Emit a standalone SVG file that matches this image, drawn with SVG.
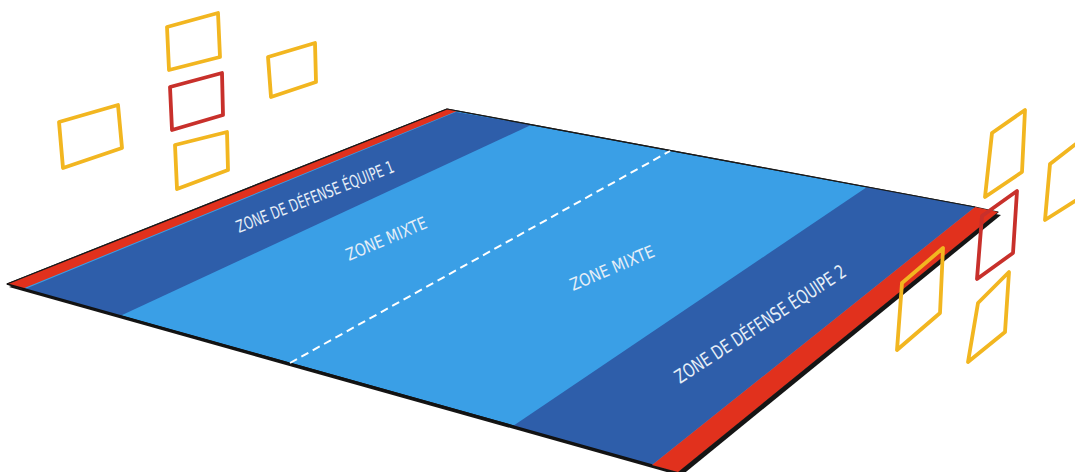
<svg xmlns="http://www.w3.org/2000/svg" width="1075" height="472" viewBox="0 0 1075 472">
<style>
.frame{fill:none;stroke-width:3.8;stroke-linejoin:round;stroke-linecap:round}
.y{stroke:#F2B620}
.r{stroke:#C8302B}
.lbl{fill:#E6EEF7;font-family:"Liberation Sans Narrow","DejaVu Sans Condensed","Liberation Sans",sans-serif}
</style>
<rect width="1075" height="472" fill="#FFFFFF"/>
<g id="court">
  <polygon points="9,287 449,112 1001,215 681,476" fill="#151515"/>
  <polygon points="7,284 447,109 975,207 998,212 678,472" fill="#3A9FE6" stroke="#1a1a1a" stroke-width="1.2" stroke-linejoin="round"/>
  <polygon id="defense1" points="25,289 456,112 531,125 120,316" fill="#2E5EAA"/>
  <polygon id="red1" points="7,284 447,109 457,111 22,289" fill="#E1311D"/>
  <polygon id="defense2" points="513,426 867,187 975,207 652,465" fill="#2E5EAA"/>
  <polygon id="red2" points="975,207 998,212 678,472 652,465" fill="#E1311D"/>
  <line x1="7" y1="284" x2="447" y2="109" stroke="#1a1a1a" stroke-width="1.3"/>
  <line x1="447" y1="109" x2="975" y2="207" stroke="#1a1a1a" stroke-width="1.1"/>
  <line x1="7" y1="284" x2="652" y2="465" stroke="#111" stroke-width="1.8"/>
  <line x1="290" y1="363" x2="670" y2="151" stroke="#FFFFFF" stroke-width="2" stroke-dasharray="8 5"/>
</g>
<g id="labels">
  <text class="lbl" font-size="17" transform="translate(239,233) rotate(-21.5)" textLength="168" lengthAdjust="spacingAndGlyphs">ZONE DE DÉFENSE ÉQUIPE 1</text>
  <text class="lbl" font-size="17" transform="translate(349,261) rotate(-23)" textLength="86" lengthAdjust="spacingAndGlyphs">ZONE MIXTE</text>
  <text class="lbl" font-size="17" transform="translate(573,291) rotate(-23)" textLength="90" lengthAdjust="spacingAndGlyphs">ZONE MIXTE</text>
  <text class="lbl" font-size="19" transform="translate(680,384) rotate(-33)" textLength="200" lengthAdjust="spacingAndGlyphs">ZONE DE DÉFENSE ÉQUIPE 2</text>
</g>
<g id="frames-left">
  <polygon id="fl1" class="frame y" points="167,27 218,13 220,57 169,70"/>
  <polygon id="fl2" class="frame r" points="170,87 222,73 223,115 172,130"/>
  <polygon id="fl3" class="frame y" points="175,145 227,132 228,170 177,189"/>
  <polygon id="fl4" class="frame y" points="268,57 315,43 316,82 271,97"/>
  <polygon id="fl5" class="frame y" points="59,122 118,105 122,148 63,168"/>
</g>
<g id="frames-right">
  <polygon id="fr1" class="frame y" points="992,133 1025,110 1022,172 985,197"/>
  <polygon id="fr2" class="frame y" points="1050,164 1085,137 1083,196 1045,220"/>
  <polygon id="fr3" class="frame r" points="982,216 1017,191 1013,253 977,279"/>
  <polygon id="fr4" class="frame y" points="902,283 943,248 940,313 897,350"/>
  <polygon id="fr5" class="frame y" points="978,303 1009,272 1005,332 968,362"/>
</g>
</svg>
